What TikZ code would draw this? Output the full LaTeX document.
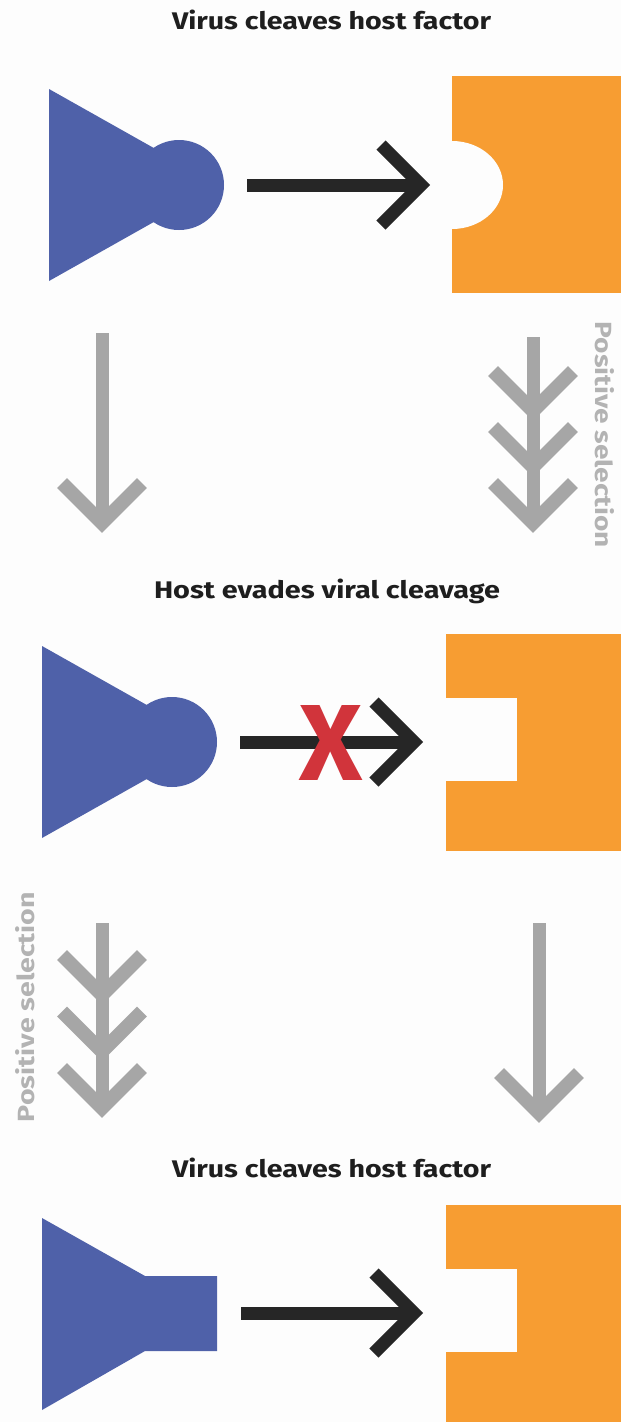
\documentclass[tikz,border=0pt]{standalone}
\usepackage{fontspec}
\setmainfont{Fira Sans}
\usepackage{graphicx}
\definecolor{vblue}{HTML}{4F61A9}
\definecolor{horange}{HTML}{F79D32}
\definecolor{ink}{HTML}{262626}
\definecolor{arrgray}{HTML}{A6A6A6}
\definecolor{lblgray}{HTML}{B3B3B3}
\definecolor{xred}{HTML}{D1343B}
\definecolor{titleink}{HTML}{1E1E1E}
\definecolor{bg}{HTML}{FDFDFD}
\tikzset{
  title/.style={anchor=base, inner sep=0pt, text=titleink, font=\bfseries},
  sellabel/.style={inner sep=0pt, text=lblgray, font=\bfseries},
  virus/.style={fill=vblue},
  host/.style={fill=horange},
  notch/.style={fill=bg},
  shaft/.style={draw=ink, line width=13pt},
  bhead/.style={draw=ink, line width=13pt, line join=miter},
  gshaft/.style={draw=arrgray, line width=13pt},
  ghead/.style={draw=arrgray, line width=14pt, line join=miter},
  blocked/.style={inner sep=0pt, text=xred, font=\bfseries},
}
\newcommand\vchev[2]{\draw[ghead] (#1-40,#2-40) -- (#1,#2) -- (#1+40,#2-40);}
\newcommand\hchev[2]{\draw[bhead] (#1-40,#2-40) -- (#1,#2) -- (#1-40,#2+40);}
\begin{document}
\begin{tikzpicture}[x=1pt,y=-1pt]
\fill[bg] (0,0) rectangle (621,1422);
\useasboundingbox (0,0) rectangle (621,1422);

% ---------- titles ----------
\node[title] (t1) at (331.5,29) {\resizebox{319pt}{19.5pt}{Virus cleaves host factor}};
\node[title] (t2) at (327,598) {\resizebox{346pt}{19.5pt}{Host evades viral cleavage}};
\node[title] (t3) at (331.5,1177) {\resizebox{319pt}{19.5pt}{Virus cleaves host factor}};

% ---------- panel 1 ----------
\fill[virus] (49,89) -- (219.5,185) -- (49,281) -- cycle;
\fill[virus] (179,185) circle[radius=45];
\fill[host] (452,76) rectangle (621,293);
\fill[notch] (452,185) ellipse[x radius=51, y radius=44];
\coordinate (a1s) at (247,185);
\coordinate (a1e) at (421,185);
\draw[shaft] (a1s) -- (a1e);
\hchev{421}{185}

% ---------- panel 2 ----------
\fill[virus] (42,646) -- (212.5,742) -- (42,838) -- cycle;
\fill[virus] (172,742) circle[radius=45];
\fill[host] (446,634) rectangle (621,851);
\fill[notch] (446,698) rectangle (517,781);
\coordinate (a2s) at (240,742);
\coordinate (a2e) at (414,742);
\draw[shaft] (a2s) -- (a2e);
\hchev{414}{742}
\node[blocked] (x) at (331,742.5) {\resizebox{63pt}{75pt}{X}};

% ---------- panel 3 ----------
\fill[virus] (42,1218) -- (145,1276) -- (217,1276) -- (217,1351) -- (145,1351) -- (42,1410) -- cycle;
\fill[host] (446,1205) rectangle (621,1422);
\fill[notch] (446,1269) rectangle (517,1352);
\coordinate (a3s) at (241,1313);
\coordinate (a3e) at (414,1313);
\draw[shaft] (a3s) -- (a3e);
\hchev{414}{1313}

% ---------- gray transitions 1 -> 2 ----------
\coordinate (g1s) at (102,333);
\coordinate (g1e) at (102,523);
\draw[gshaft] (g1s) -- (g1e);
\vchev{102}{523}
\coordinate (g2s) at (533,337);
\coordinate (g2e) at (533,523);
\draw[gshaft] (g2s) -- (g2e);
\vchev{533}{411}
\vchev{533}{467}
\vchev{533}{523}
\node[sellabel, rotate=-90] (ps1) at (605,435) {\resizebox{226pt}{19pt}{Positive selection}};

% ---------- gray transitions 2 -> 3 ----------
\coordinate (g3s) at (102,923);
\coordinate (g3e) at (102,1108);
\draw[gshaft] (g3s) -- (g3e);
\vchev{102}{995}
\vchev{102}{1051.5}
\vchev{102}{1108}
\coordinate (g4s) at (539,923);
\coordinate (g4e) at (539,1113);
\draw[gshaft] (g4s) -- (g4e);
\vchev{539}{1113}
\node[sellabel, rotate=90] (ps2) at (25,1007) {\resizebox{230pt}{19pt}{Positive selection}};
\end{tikzpicture}
\end{document}
